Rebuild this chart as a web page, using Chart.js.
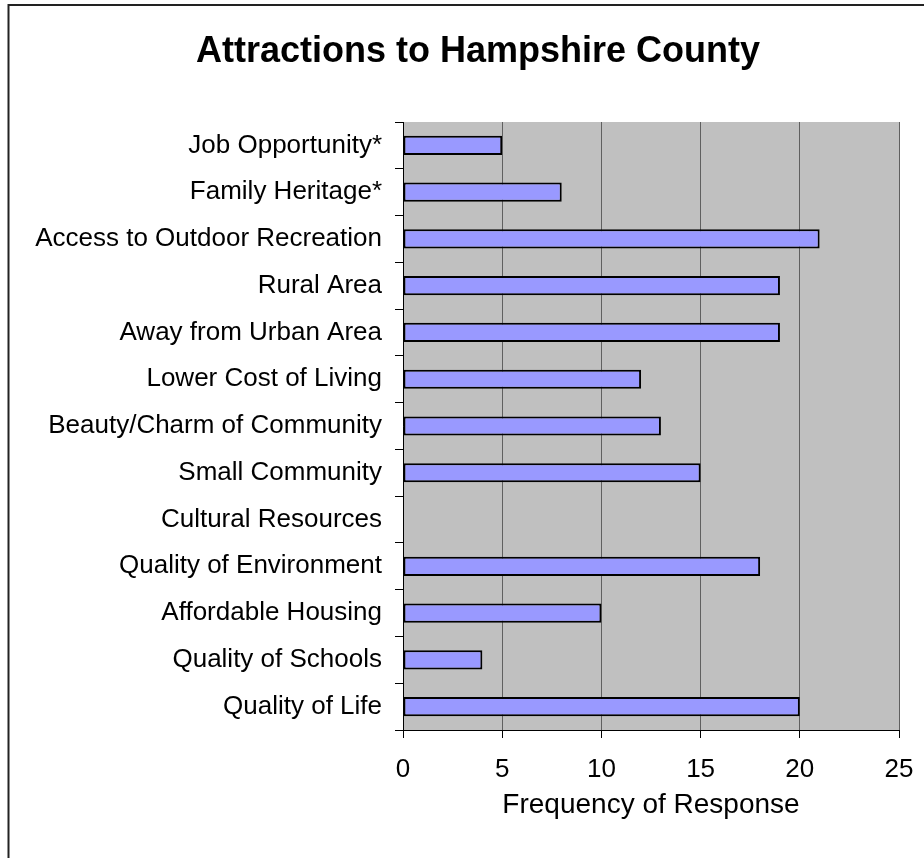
<!DOCTYPE html>
<html>
<head>
<meta charset="utf-8">
<script src="https://cdn.jsdelivr.net/npm/chart.js@4/dist/chart.umd.min.js"></script>
<style>
  html, body { margin: 0; padding: 0; background: #ffffff; }
  #wrap { width: 924px; height: 858px; }
</style>
</head>
<body>
<div id="wrap"><canvas id="c" width="924" height="858"></canvas></div>
<script>
const categories = [
  "Job Opportunity*",
  "Family Heritage*",
  "Access to Outdoor Recreation",
  "Rural Area",
  "Away from Urban Area",
  "Lower Cost of Living",
  "Beauty/Charm of Community",
  "Small Community",
  "Cultural Resources",
  "Quality of Environment",
  "Affordable Housing",
  "Quality of Schools",
  "Quality of Life"
];
const frequency = [5, 8, 21, 19, 19, 12, 13, 15, 0, 18, 10, 4, 20];
const xTickMin = 0, xTickMax = 25, xTickStep = 5;
const chartTitle = "Attractions to Hampshire County";
const xAxisTitle = "Frequency of Response";

const FONT = "'Liberation Sans', Arial, sans-serif";

const frameAndTitle = {
  id: 'frameAndTitle',
  beforeDraw(chart) {
    const {ctx, chartArea: a} = chart;
    ctx.save();
    ctx.fillStyle = '#ffffff';
    ctx.fillRect(0, 0, chart.width, chart.height);
    ctx.strokeStyle = '#222222';
    ctx.lineWidth = 2;
    ctx.strokeRect(8.5, 5, 1000, 1000);
    ctx.fillStyle = '#C0C0C0';
    ctx.fillRect(a.left, a.top, a.right - a.left, a.bottom - a.top);
    ctx.restore();
  },
  afterDraw(chart) {
    const ctx = chart.ctx;
    ctx.save();
    ctx.fillStyle = '#000000';
    ctx.font = "bold 36px " + FONT;
    ctx.textAlign = 'center';
    ctx.textBaseline = 'middle';
    ctx.fillText(chartTitle, 478, 52);
    ctx.restore();
  }
};

new Chart(document.getElementById('c'), {
  type: 'bar',
  data: {
    labels: categories,
    datasets: [{
      data: frequency,
      backgroundColor: '#9999FF',
      borderColor: '#000000',
      borderWidth: ctx => (ctx.raw === 0 ? 0 : 2),
      borderSkipped: false,
      categoryPercentage: 1.0,
      barPercentage: 0.41
    }]
  },
  options: {
    indexAxis: 'y',
    responsive: false,
    devicePixelRatio: 1,
    animation: false,
    layout: { padding: { left: 0, right: 25, top: 122, bottom: 0 } },
    plugins: {
      legend: { display: false },
      tooltip: { enabled: false },
      title: { display: false }
    },
    scales: {
      y: {
        type: 'category',
        offset: true,
        afterFit: s => { s.width = 403; },
        border: { display: true, color: '#000000', width: 1 },
        grid: {
          offset: true,
          drawOnChartArea: false,
          drawTicks: true,
          tickLength: 8,
          color: '#000000'
        },
        ticks: {
          color: '#000000',
          font: { family: FONT, size: 26 },
          padding: 13,
          autoSkip: false
        }
      },
      x: {
        min: xTickMin,
        max: xTickMax,
        afterFit: s => { s.height = 128; s.paddingLeft = 0; s.paddingRight = 0; },
        border: { display: true, color: '#000000', width: 1 },
        grid: {
          color: '#606060',
          lineWidth: 1,
          drawTicks: true,
          tickLength: 8,
          tickColor: '#000000'
        },
        ticks: {
          stepSize: xTickStep,
          color: '#000000',
          font: { family: FONT, size: 26 },
          padding: 16
        },
        title: {
          display: true,
          text: xAxisTitle,
          color: '#000000',
          font: { family: FONT, size: 28 },
          padding: { top: 0, bottom: 36 }
        }
      }
    }
  },
  plugins: [frameAndTitle]
});
</script>
</body>
</html>
